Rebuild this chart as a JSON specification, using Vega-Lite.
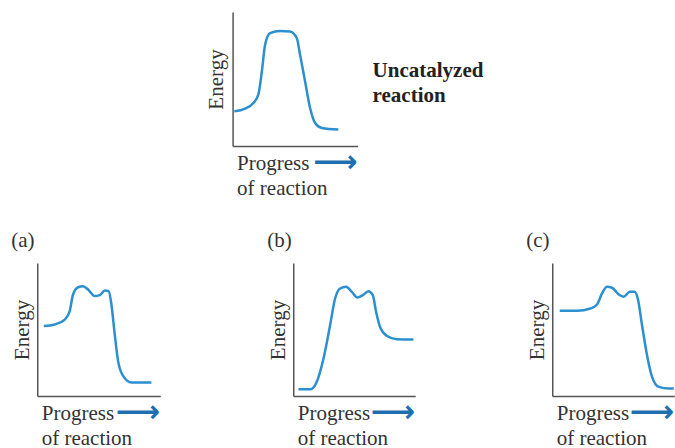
{
  "$schema": "https://vega.github.io/schema/vega-lite/v6.json",
  "padding": {"left": 11, "top": 12, "right": 0, "bottom": 0},
  "background": "white",
  "config": {
    "view": {"stroke": null},
    "font": "Liberation Serif",
    "axis": {"grid": false, "ticks": false, "labels": false, "domainColor": "#555555", "domainWidth": 1.5, "titleFont": "Liberation Serif", "titleFontSize": 21, "titleFontWeight": "normal", "titleColor": "#333333"},
    "title": {"font": "Liberation Serif", "fontSize": 21, "fontWeight": "normal", "color": "#333333", "anchor": "start", "frame": "bounds", "offset": 12}
  },
  "datasets": {
    "curves": [
      {"panel": "top", "p": 0.14, "e": 2.59}, {"panel": "top", "p": 1.0, "e": 2.79}, {"panel": "top", "p": 1.66, "e": 3.21}, {"panel": "top", "p": 2.06, "e": 3.83}, {"panel": "top", "p": 2.34, "e": 5.56}, {"panel": "top", "p": 2.6, "e": 7.55}, {"panel": "top", "p": 3.0, "e": 8.42}, {"panel": "top", "p": 3.8, "e": 8.59}, {"panel": "top", "p": 4.6, "e": 8.54}, {"panel": "top", "p": 5.14, "e": 8.04}, {"panel": "top", "p": 5.4, "e": 6.8}, {"panel": "top", "p": 5.8, "e": 4.82}, {"panel": "top", "p": 6.2, "e": 2.84}, {"panel": "top", "p": 6.6, "e": 1.72}, {"panel": "top", "p": 7.14, "e": 1.35}, {"panel": "top", "p": 8.46, "e": 1.23},
      {"panel": "a", "p": 0.53, "e": 5.26}, {"panel": "a", "p": 1.42, "e": 5.38}, {"panel": "a", "p": 2.24, "e": 5.75}, {"panel": "a", "p": 2.64, "e": 6.38}, {"panel": "a", "p": 2.91, "e": 7.63}, {"panel": "a", "p": 3.32, "e": 8.18}, {"panel": "a", "p": 3.72, "e": 8.25}, {"panel": "a", "p": 4.13, "e": 8.0}, {"panel": "a", "p": 4.67, "e": 7.51}, {"panel": "a", "p": 5.08, "e": 7.58}, {"panel": "a", "p": 5.49, "e": 7.93}, {"panel": "a", "p": 5.81, "e": 7.88}, {"panel": "a", "p": 6.03, "e": 6.88}, {"panel": "a", "p": 6.3, "e": 4.63}, {"panel": "a", "p": 6.57, "e": 2.64}, {"panel": "a", "p": 6.98, "e": 1.51}, {"panel": "a", "p": 7.66, "e": 1.01}, {"panel": "a", "p": 9.28, "e": 1.01},
      {"panel": "b", "p": 0.43, "e": 0.51}, {"panel": "b", "p": 1.43, "e": 0.51}, {"panel": "b", "p": 1.93, "e": 1.07}, {"panel": "b", "p": 2.48, "e": 2.82}, {"panel": "b", "p": 3.02, "e": 5.32}, {"panel": "b", "p": 3.43, "e": 7.33}, {"panel": "b", "p": 3.84, "e": 8.08}, {"panel": "b", "p": 4.33, "e": 8.21}, {"panel": "b", "p": 4.8, "e": 7.83}, {"panel": "b", "p": 5.26, "e": 7.41}, {"panel": "b", "p": 5.7, "e": 7.58}, {"panel": "b", "p": 6.16, "e": 7.88}, {"panel": "b", "p": 6.52, "e": 7.58}, {"panel": "b", "p": 6.79, "e": 6.33}, {"panel": "b", "p": 7.11, "e": 5.2}, {"panel": "b", "p": 7.66, "e": 4.53}, {"panel": "b", "p": 8.48, "e": 4.27}, {"panel": "b", "p": 9.85, "e": 4.25},
      {"panel": "c", "p": 0.61, "e": 6.41}, {"panel": "c", "p": 2.03, "e": 6.41}, {"panel": "c", "p": 3.13, "e": 6.58}, {"panel": "c", "p": 3.67, "e": 6.88}, {"panel": "c", "p": 4.08, "e": 7.71}, {"panel": "c", "p": 4.49, "e": 8.21}, {"panel": "c", "p": 4.9, "e": 8.14}, {"panel": "c", "p": 5.45, "e": 7.63}, {"panel": "c", "p": 5.86, "e": 7.46}, {"panel": "c", "p": 6.35, "e": 7.83}, {"panel": "c", "p": 6.74, "e": 7.83}, {"panel": "c", "p": 7.01, "e": 7.33}, {"panel": "c", "p": 7.36, "e": 5.32}, {"panel": "c", "p": 7.77, "e": 3.07}, {"panel": "c", "p": 8.18, "e": 1.44}, {"panel": "c", "p": 8.73, "e": 0.69}, {"panel": "c", "p": 9.55, "e": 0.56}, {"panel": "c", "p": 9.96, "e": 0.56}
    ],
    "arrow": [{"glyph": "⟶"}],
    "note": [{"label": "Uncatalyzed\nreaction"}]
  },
  "vconcat": [
    {
      "width": 125, "height": 134,
      "layer": [
        {
          "data": {"name": "curves"},
          "transform": [{"filter": "datum.panel === 'top'"}],
          "mark": {"type": "line", "interpolate": "monotone", "color": "#2b8fd0", "strokeWidth": 2.5},
          "encoding": {
            "x": {"field": "p", "type": "quantitative", "scale": {"domain": [0, 10], "nice": false, "zero": false}, "axis": {"title": ["Progress", "of reaction"], "titleAnchor": "start", "titleAlign": "left", "titleX": 4, "titlePadding": 6, "titleLineHeight": 25}},
            "y": {"field": "e", "type": "quantitative", "scale": {"domain": [0, 10], "nice": false, "zero": false}, "axis": {"title": "Energy", "titlePadding": 6}}
          }
        },
        {
          "data": {"name": "arrow"},
          "mark": {"type": "text", "font": "DejaVu Sans", "fontWeight": "bold", "fontSize": 31, "color": "#1f6fb0", "align": "right", "baseline": "middle", "dy": 17},
          "encoding": {"text": {"field": "glyph"}, "x": {"datum": 10}, "y": {"datum": 0}}
        },
        {
          "data": {"name": "note"},
          "mark": {"type": "text", "font": "Liberation Serif", "fontWeight": "bold", "fontSize": 21, "color": "#222222", "align": "left", "baseline": "alphabetic", "lineBreak": "\n", "lineHeight": 25},
          "encoding": {"text": {"field": "label"}, "x": {"datum": 11.2}, "y": {"datum": 5.17}}
        }
      ]
    },
    {
      "hconcat": [
        {
          "title": "(a)",
          "width": 123, "height": 133,
          "layer": [
            {
              "data": {"name": "curves"},
              "transform": [{"filter": "datum.panel === 'a'"}],
              "mark": {"type": "line", "interpolate": "monotone", "color": "#2b8fd0", "strokeWidth": 2.5},
              "encoding": {
                "x": {"field": "p", "type": "quantitative", "scale": {"domain": [0, 10], "nice": false, "zero": false}, "axis": {"title": ["Progress", "of reaction"], "titleAnchor": "start", "titleAlign": "left", "titleX": 4, "titlePadding": 6, "titleLineHeight": 25}},
                "y": {"field": "e", "type": "quantitative", "scale": {"domain": [0, 10], "nice": false, "zero": false}, "axis": {"title": "Energy", "titlePadding": 5}}
              }
            },
            {
              "data": {"name": "arrow"},
              "mark": {"type": "text", "font": "DejaVu Sans", "fontWeight": "bold", "fontSize": 31, "color": "#1f6fb0", "align": "right", "baseline": "middle", "dy": 17},
              "encoding": {"text": {"field": "glyph"}, "x": {"datum": 10}, "y": {"datum": 0}}
            }
          ]
        },
        {
          "title": "(b)",
          "width": 122, "height": 133,
          "layer": [
            {
              "data": {"name": "curves"},
              "transform": [{"filter": "datum.panel === 'b'"}],
              "mark": {"type": "line", "interpolate": "monotone", "color": "#2b8fd0", "strokeWidth": 2.5},
              "encoding": {
                "x": {"field": "p", "type": "quantitative", "scale": {"domain": [0, 10], "nice": false, "zero": false}, "axis": {"title": ["Progress", "of reaction"], "titleAnchor": "start", "titleAlign": "left", "titleX": 4, "titlePadding": 6, "titleLineHeight": 25}},
                "y": {"field": "e", "type": "quantitative", "scale": {"domain": [0, 10], "nice": false, "zero": false}, "axis": {"title": "Energy", "titlePadding": 5}}
              }
            },
            {
              "data": {"name": "arrow"},
              "mark": {"type": "text", "font": "DejaVu Sans", "fontWeight": "bold", "fontSize": 31, "color": "#1f6fb0", "align": "right", "baseline": "middle", "dy": 17},
              "encoding": {"text": {"field": "glyph"}, "x": {"datum": 10}, "y": {"datum": 0}}
            }
          ]
        },
        {
          "title": "(c)",
          "width": 122, "height": 133,
          "layer": [
            {
              "data": {"name": "curves"},
              "transform": [{"filter": "datum.panel === 'c'"}],
              "mark": {"type": "line", "interpolate": "monotone", "color": "#2b8fd0", "strokeWidth": 2.5},
              "encoding": {
                "x": {"field": "p", "type": "quantitative", "scale": {"domain": [0, 10], "nice": false, "zero": false}, "axis": {"title": ["Progress", "of reaction"], "titleAnchor": "start", "titleAlign": "left", "titleX": 4, "titlePadding": 6, "titleLineHeight": 25}},
                "y": {"field": "e", "type": "quantitative", "scale": {"domain": [0, 10], "nice": false, "zero": false}, "axis": {"title": "Energy", "titlePadding": 5}}
              }
            },
            {
              "data": {"name": "arrow"},
              "mark": {"type": "text", "font": "DejaVu Sans", "fontWeight": "bold", "fontSize": 31, "color": "#1f6fb0", "align": "right", "baseline": "middle", "dy": 17},
              "encoding": {"text": {"field": "glyph"}, "x": {"datum": 10}, "y": {"datum": 0}}
            }
          ]
        }
      ],
      "spacing": 107
    }
  ],
  "center": true,
  "spacing": 32
}
